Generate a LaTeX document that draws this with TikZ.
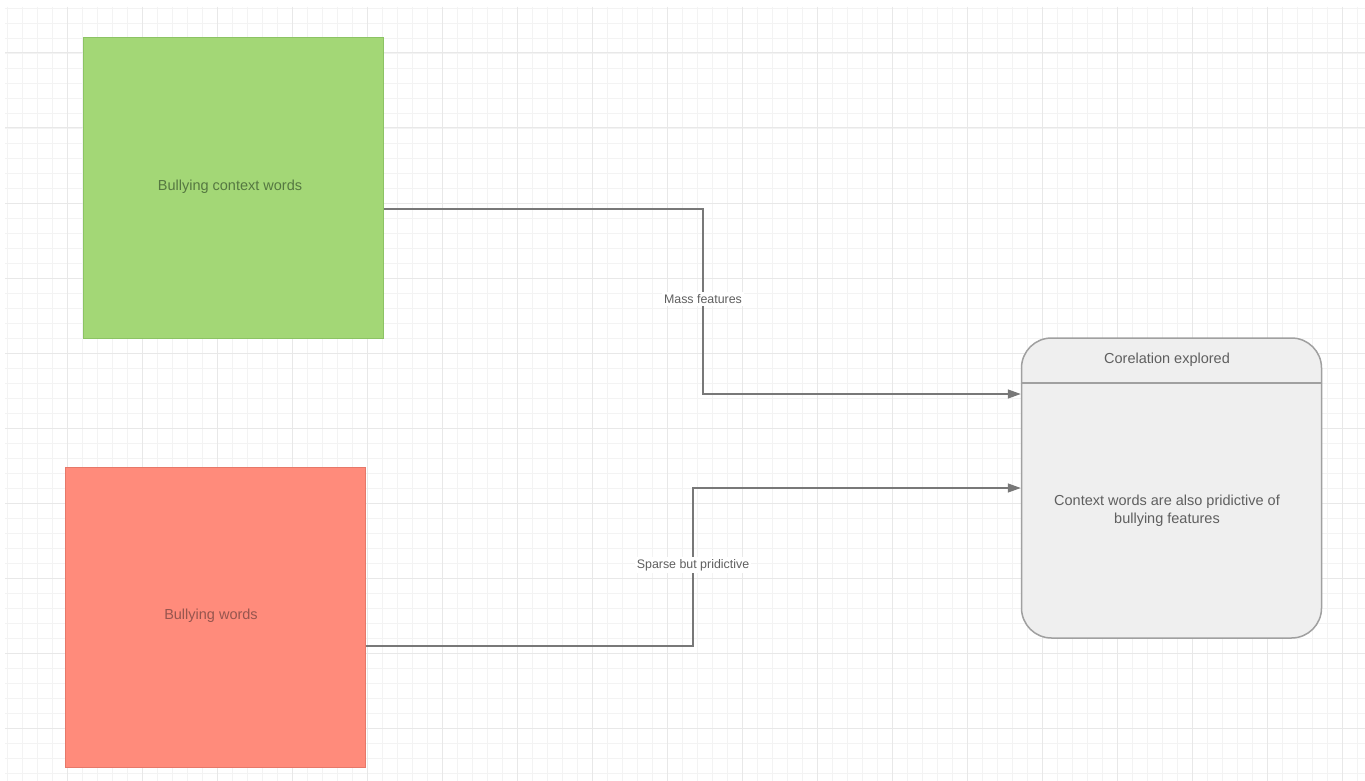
\documentclass[tikz,border=0pt]{standalone}
\usepackage{fontspec}
\setmainfont{Liberation Sans}
\usetikzlibrary{arrows.meta}
\definecolor{gminor}{RGB}{243,243,243}
\definecolor{gmajor}{RGB}{232,232,232}
\definecolor{greenfill}{RGB}{163,215,118}
\definecolor{greenedge}{RGB}{140,195,100}
\definecolor{redfill}{RGB}{255,139,123}
\definecolor{rededge}{RGB}{230,120,105}
\definecolor{corrfill}{RGB}{239,239,239}
\definecolor{corredge}{RGB}{160,160,160}
\definecolor{linecol}{RGB}{120,120,120}
\definecolor{txtgray}{RGB}{95,95,95}
\definecolor{greentxtcol}{RGB}{85,120,65}
\definecolor{redtxtcol}{RGB}{150,85,78}
\begin{document}
\begin{tikzpicture}[x=1pt,y=-1pt,
  every node/.style={font=\fontsize{14.5}{18}\selectfont, inner sep=0pt},
  squarebox/.style={draw, line width=1pt, minimum width=300pt, minimum height=300pt},
  roundbox/.style={draw=corredge, fill=corrfill, line width=1.5pt, rounded corners=30pt, minimum width=300pt, minimum height=300pt},
  conn/.style={draw=linecol, line width=1.3pt, -{Triangle[length=13pt,width=9pt]}},
  lbl/.style={fill=white, text=txtgray, inner sep=2pt, font=\fontsize{12.4}{15}\selectfont}
]
\useasboundingbox (0,0) rectangle (1365,781);
\fill[white] (0,0) rectangle (1365,781);
% minor grid
\foreach \x in {7,22,...,1365} \draw[gminor, line width=0.8pt] (\x,7) -- (\x,781);
\foreach \y in {8,23,...,781} \draw[gminor, line width=0.8pt] (5,\y) -- (1365,\y);
% major grid
\foreach \x in {67,142,...,1365} \draw[gmajor, line width=1pt] (\x,7) -- (\x,781);
\foreach \y in {53,128,...,781} \draw[gmajor, line width=1pt] (5,\y) -- (1365,\y);

\node[squarebox, draw=greenedge, fill=greenfill] (green) at (233.5,188) {};
\node[text=greentxtcol] (greentxt) at (230,187) {Bullying context words};

\node[squarebox, draw=rededge, fill=redfill] (red) at (215,617) {};
\node[text=redtxtcol] (redtxt) at (211,616) {Bullying words};

\node[roundbox] (corr) at (1171.5,488) {};
\draw[corredge, line width=1.5pt] (corr.west |- 0,383) -- (corr.east |- 0,383);
\node[text=txtgray] (corrtitle) at (1167,360) {Corelation explored};
\node[text=txtgray, align=center] (corrtxt) at (1167,511) {Context words are also pridictive of\\bullying features};

\draw[conn] (green.east |- 0,209) -| (703,300) |- (corr.west |- 0,394);
\draw[conn] (red.east |- 0,646) -| (693,560) |- (corr.west |- 0,488);
\node[lbl] (masslbl) at (703,299) {Mass features};
\node[lbl] (sparselbl) at (693,565) {Sparse but pridictive};
\end{tikzpicture}
\end{document}
